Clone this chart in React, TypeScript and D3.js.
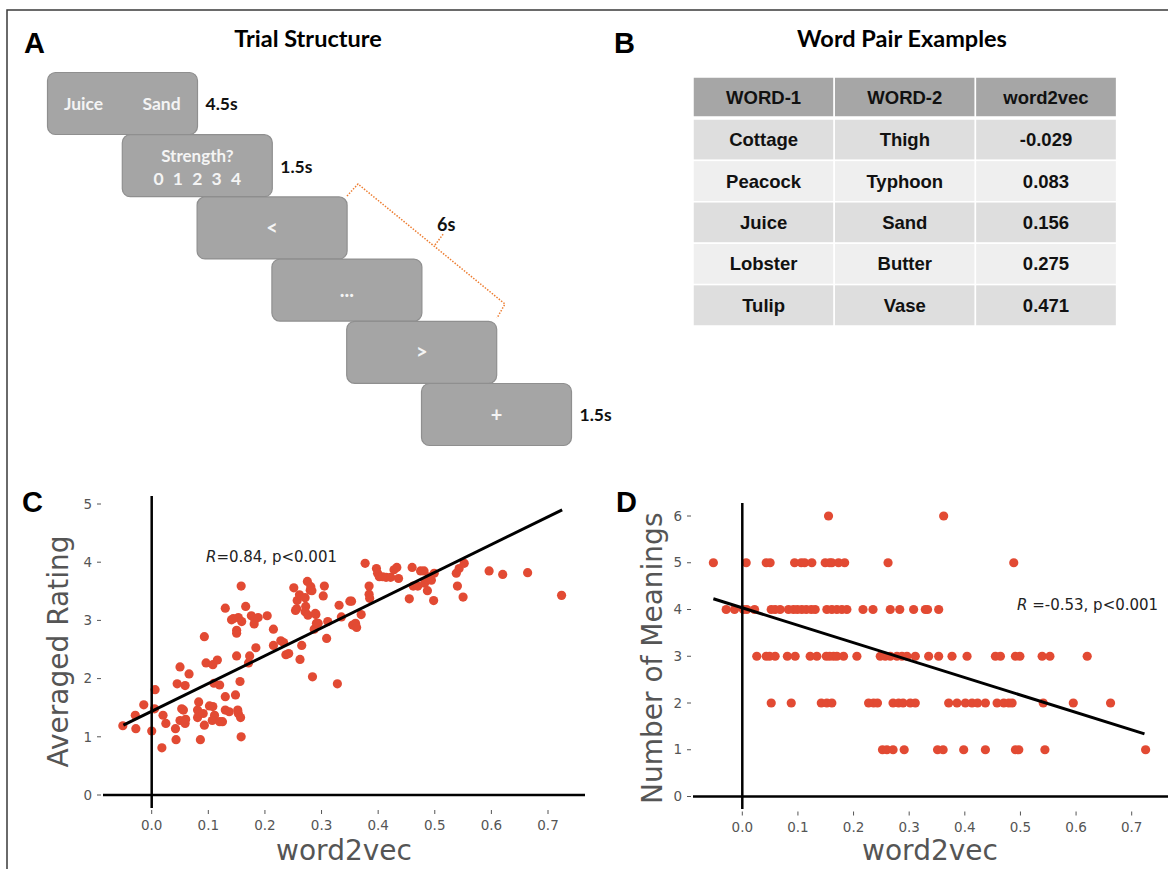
import React, { useEffect, useRef } from 'react';
import * as d3 from 'd3';

// ---- Panel A: trial structure ----
const screenLabels: string[][] = [['Juice', 'Sand'], ['Strength?', '0 1 2 3 4'], ['<'], ['...'], ['>'], ['+']];
const screenDurations = ['4.5s', '1.5s', '', '', '', '1.5s'];

// ---- Panel B: word pair table ----
const tableHeaders = ['WORD-1', 'WORD-2', 'word2vec'];
const word1 = ['Cottage', 'Peacock', 'Juice', 'Lobster', 'Tulip'];
const word2 = ['Thigh', 'Typhoon', 'Sand', 'Butter', 'Vase'];
const pairSimilarity = ['-0.029', '0.083', '0.156', '0.275', '0.471'];

// ---- Panel C: word2vec vs averaged rating ----
const cWord2vec = [
  -0.051, -0.029, -0.028, -0.014, 0.0, 0.006, 0.005, 0.018, 0.02, 0.025, 0.042, 0.043, 0.045, 0.05, 0.053, 0.056,
  0.05, 0.059, 0.059, 0.06, 0.066, 0.083, 0.081, 0.081, 0.084, 0.086, 0.093, 0.093, 0.096, 0.091, 0.102, 0.108,
  0.108, 0.11, 0.111, 0.107, 0.116, 0.12, 0.12, 0.125, 0.13, 0.13, 0.13, 0.137, 0.141, 0.148, 0.15, 0.15, 0.15,
  0.152, 0.153, 0.153, 0.156, 0.157, 0.158, 0.158, 0.159, 0.166, 0.171, 0.173, 0.176, 0.181, 0.182, 0.184, 0.188,
  0.204, 0.215, 0.215, 0.228, 0.233, 0.237, 0.242, 0.251, 0.254, 0.257, 0.261, 0.262, 0.265, 0.271, 0.272, 0.271,
  0.275, 0.276, 0.28, 0.281, 0.284, 0.287, 0.29, 0.291, 0.303, 0.305, 0.309, 0.311, 0.328, 0.331, 0.335, 0.35,
  0.353, 0.355, 0.36, 0.362, 0.37, 0.377, 0.384, 0.384, 0.385, 0.397, 0.399, 0.402, 0.408, 0.414, 0.422, 0.428,
  0.433, 0.436, 0.455, 0.46, 0.462, 0.47, 0.475, 0.481, 0.482, 0.487, 0.49, 0.494, 0.498, 0.499, 0.538, 0.54,
  0.543, 0.55, 0.552, 0.596, 0.62, 0.664, 0.724, 0.144, 0.256, 0.289, 0.294, 0.283,
];
const cRating = [
  1.19, 1.37, 1.14, 1.55, 1.1, 1.81, 1.48, 0.81, 1.37, 1.23, 1.14, 0.95, 1.91, 2.2, 1.48, 1.46,
  1.28, 1.88, 1.23, 1.3, 2.08, 1.6, 1.46, 1.33, 1.4, 0.95, 2.72, 1.2, 2.27, 1.4, 1.53, 1.52,
  2.24, 1.92, 1.37, 1.28, 2.32, 1.89, 1.26, 1.26, 3.21, 1.69, 1.46, 1.43, 3.01, 1.72, 2.39, 2.83, 2.78,
  1.46, 1.4, 3.05, 1.95, 1.33, 1.0, 3.59, 2.98, 3.24, 2.27, 2.39, 3.08, 2.94, 3.01, 2.53, 3.05,
  3.08, 2.85, 2.57, 2.65, 2.62, 2.41, 2.43, 3.56, 3.17, 3.34, 3.44, 2.33, 2.57, 3.39, 3.24, 3.15,
  3.67, 3.09, 3.52, 3.58, 2.03, 2.85, 3.1, 2.95, 3.42, 3.59, 2.69, 2.98, 1.91, 3.26, 3.06, 3.33,
  3.33, 2.92, 2.95, 2.88, 3.1, 3.98, 3.59, 3.45, 3.38, 3.89, 3.81, 3.75, 3.75, 3.74, 3.74, 3.87,
  3.91, 3.72, 3.37, 3.91, 3.59, 3.59, 3.85, 3.85, 3.64, 3.51, 3.75, 3.69, 3.34, 3.81, 3.81, 3.59,
  3.89, 3.4, 3.98, 3.85, 3.79, 3.82, 3.43, 3.03, 3.2, 3.12, 2.95, 3.51,
];
const cFitX = [-0.05, 0.725];
const cFitY = [1.2, 4.9];

// ---- Panel D: word2vec vs number of meanings ----
const dLevels = [1, 2, 3, 4, 5, 6];
const dWord2vecByLevel = [
  [0.252, 0.26, 0.271, 0.291, 0.351, 0.361, 0.398, 0.437, 0.491, 0.497, 0.544, 0.725],
  [0.052, 0.088, 0.142, 0.152, 0.161, 0.227, 0.236, 0.243, 0.271, 0.281, 0.289, 0.302, 0.311, 0.371, 0.386, 0.401,
    0.413, 0.423, 0.437, 0.458, 0.47, 0.479, 0.485, 0.541, 0.595, 0.662],
  [0.026, 0.043, 0.049, 0.059, 0.081, 0.095, 0.122, 0.134, 0.151, 0.157, 0.164, 0.17, 0.182, 0.206, 0.248, 0.257,
    0.266, 0.278, 0.287, 0.296, 0.311, 0.335, 0.353, 0.377, 0.404, 0.455, 0.464, 0.491, 0.499, 0.539, 0.553, 0.62],
  [-0.029, -0.014, 0.002, 0.008, 0.022, 0.052, 0.059, 0.068, 0.083, 0.092, 0.099, 0.107, 0.115, 0.124, 0.131, 0.152,
    0.161, 0.17, 0.179, 0.188, 0.217, 0.235, 0.266, 0.283, 0.308, 0.329, 0.333, 0.353],
  [-0.052, 0.007, 0.043, 0.05, 0.094, 0.106, 0.112, 0.125, 0.149, 0.157, 0.161, 0.173, 0.184, 0.262, 0.488],
  [0.155, 0.362],
];
const dFitX = [-0.052, 0.723];
const dFitY = [4.23, 1.34];

const DOT = '#e24a33';
const TICK_FONT = 'DejaVu Sans';

interface ScatterCfg {
  xs: number[];
  ys: number[];
  x: d3.ScaleLinear<number, number>;
  y: d3.ScaleLinear<number, number>;
  yMax: number;
  fitX: number[];
  fitY: number[];
  stat: string;
  statX: number;
  statY: number;
  yTitle: string;
  yTitleX: number;
  yTitleSize: number;
  xTitleX: number;
  axisX0: number;
  axisX1: number;
  vTop: number;
  vBottom: number;
}

function drawScatter(svg: d3.Selection<SVGSVGElement, unknown, null, undefined>, cfg: ScatterCfg) {
  const { x, y } = cfg;
  const g = svg.append('g');
  const y0 = y(0);

  // y ticks
  d3.range(0, cfg.yMax + 1).forEach(v => {
    g.append('text')
      .attr('x', cfg.axisX0 - 11)
      .attr('y', y(v))
      .attr('dy', '0.35em')
      .attr('text-anchor', 'end')
      .attr('font-family', TICK_FONT)
      .attr('font-size', 13.5)
      .attr('fill', '#555')
      .text(v);
    g.append('line')
      .attr('x1', cfg.axisX0 - 6).attr('x2', cfg.axisX0 - 2)
      .attr('y1', y(v)).attr('y2', y(v))
      .attr('stroke', '#555').attr('stroke-width', 1);
  });

  // x ticks
  x.ticks(7).forEach(t => {
    g.append('line')
      .attr('x1', x(t)).attr('x2', x(t))
      .attr('y1', y0 + 15).attr('y2', y0 + 19)
      .attr('stroke', '#555').attr('stroke-width', 1);
    g.append('text')
      .attr('x', x(t))
      .attr('y', y0 + 35)
      .attr('text-anchor', 'middle')
      .attr('font-family', TICK_FONT)
      .attr('font-size', 13.5)
      .attr('fill', '#555')
      .text(d3.format('.1f')(t));
  });

  // points
  g.selectAll('circle.pt')
    .data(cfg.xs.map((v, i) => [v, cfg.ys[i]]))
    .enter().append('circle')
    .attr('class', 'pt')
    .attr('cx', d => x(d[0]))
    .attr('cy', d => y(d[1]))
    .attr('r', 4.6)
    .attr('fill', DOT);

  // zero lines
  g.append('line')
    .attr('x1', cfg.axisX0).attr('x2', cfg.axisX1)
    .attr('y1', y0).attr('y2', y0)
    .attr('stroke', '#000').attr('stroke-width', 2.5);
  g.append('line')
    .attr('x1', x(0)).attr('x2', x(0))
    .attr('y1', cfg.vTop).attr('y2', cfg.vBottom)
    .attr('stroke', '#000').attr('stroke-width', 2.5);

  // regression line
  g.append('path')
    .attr('d', d3.line<number>().x((v, i) => x(cfg.fitX[i])).y(v => y(v))(cfg.fitY))
    .attr('stroke', '#000').attr('stroke-width', 3).attr('fill', 'none');

  const st = g.append('text')
    .attr('x', cfg.statX).attr('y', cfg.statY)
    .attr('font-family', TICK_FONT).attr('font-size', 15).attr('fill', '#222');
  st.append('tspan').attr('font-style', 'italic').text('R');
  st.append('tspan').text(cfg.stat);

  g.append('text')
    .attr('transform', `translate(${cfg.yTitleX},${(y(0) + y(cfg.yMax)) / 2 + 2}) rotate(-90)`)
    .attr('text-anchor', 'middle')
    .attr('font-family', TICK_FONT).attr('font-size', cfg.yTitleSize).attr('fill', '#555')
    .text(cfg.yTitle);

  g.append('text')
    .attr('x', cfg.xTitleX).attr('y', 860)
    .attr('text-anchor', 'middle')
    .attr('font-family', TICK_FONT).attr('font-size', 28).attr('fill', '#555')
    .text('word2vec');
}

const App: React.FC = () => {
  const svgRef = useRef<SVGSVGElement>(null);

  useEffect(() => {
    if (!svgRef.current) return;
    const svg = d3.select(svgRef.current);
    svg.selectAll('*').remove();

    svg.append('rect').attr('width', 1168).attr('height', 869).attr('fill', '#fff');
    svg.append('rect')
      .attr('x', 7).attr('y', 10).attr('width', 1400).attr('height', 1000)
      .attr('fill', 'none').attr('stroke', '#3a3a3a').attr('stroke-width', 1.5);

    const letter = (t: string, x: number, y: number) =>
      svg.append('text').attr('x', x).attr('y', y)
        .attr('font-family', 'Liberation Sans, Arial').attr('font-weight', 'bold')
        .attr('font-size', 29).attr('fill', '#000').text(t);
    letter('A', 24, 53);
    letter('B', 614, 53);
    letter('C', 22, 512);
    letter('D', 616, 512);

    const title = (t: string, x: number) =>
      svg.append('text').attr('x', x).attr('y', 47).attr('text-anchor', 'middle')
        .attr('font-family', 'Lato').attr('font-weight', 'bold')
        .attr('font-size', 23.5).attr('fill', '#000').text(t);
    title('Trial Structure', 308);
    title('Word Pair Examples', 902);

    // ---- Panel A ----
    const boxW = 150, boxH = 62, stepX = 74.8, stepY = 62.2;
    const gA = svg.append('g');
    screenLabels.forEach((lab, i) => {
      const bx = 47.5 + i * stepX, by = 72.5 + i * stepY;
      gA.append('rect')
        .attr('x', bx).attr('y', by).attr('width', boxW).attr('height', boxH)
        .attr('rx', 8).attr('fill', '#a5a5a5').attr('stroke', '#8f8f8f').attr('stroke-width', 1.2);
      const txt = (s: string, tx: number, ty: number, size = 17) =>
        gA.append('text').attr('x', tx).attr('y', ty).attr('text-anchor', 'middle')
          .attr('font-family', 'Lato').attr('font-weight', 'bold').attr('font-size', size)
          .attr('fill', '#f4f4f4').text(s);
      if (lab.length === 2 && i === 0) {
        txt(lab[0], bx + 36, by + 37, 17.5);
        txt(lab[1], bx + 114, by + 37, 17.5);
      } else if (lab.length === 2) {
        txt(lab[0], bx + boxW / 2, by + 27, 17);
        txt(lab[1], bx + boxW / 2, by + 50, 17.5).attr('word-spacing', 5);
      } else {
        txt(lab[0], bx + boxW / 2, by + boxH / 2 + 7, 20);
      }
      if (screenDurations[i]) {
        gA.append('text')
          .attr('x', bx + boxW + 8).attr('y', by + (i === 1 ? 38 : 37))
          .attr('font-family', 'Lato').attr('font-weight', 'bold').attr('font-size', 17.5)
          .attr('fill', '#111').text(screenDurations[i]);
      }
    });
    // 6s bracket
    gA.append('polyline')
      .attr('points', '347,196 358,184 505,304 497,318')
      .attr('fill', 'none').attr('stroke', '#ed7d31').attr('stroke-width', 1.5)
      .attr('stroke-dasharray', '1.5,1.5');
    gA.append('line')
      .attr('x1', 435).attr('y1', 245).attr('x2', 444).attr('y2', 233)
      .attr('stroke', '#ed7d31').attr('stroke-width', 1.5).attr('stroke-dasharray', '1.5,1.5');
    gA.append('text').attr('x', 437).attr('y', 231)
      .attr('font-family', 'Lato').attr('font-weight', 'bold').attr('font-size', 18)
      .attr('fill', '#111').text('6s');

    // ---- Panel B ----
    const tx0 = 693, colW = 141.2, headY = 77, headH = 40, rowY0 = 119, rowH = 41.4;
    const gB = svg.append('g');
    const cell = (ci: number, y: number, h: number, fill: string, s: string) => {
      gB.append('rect')
        .attr('x', tx0 + ci * colW).attr('y', y).attr('width', colW).attr('height', h)
        .attr('fill', fill).attr('stroke', '#fff').attr('stroke-width', 1.5);
      gB.append('text')
        .attr('x', tx0 + ci * colW + colW / 2).attr('y', y + h / 2 + 6.5)
        .attr('text-anchor', 'middle')
        .attr('font-family', 'Liberation Sans, Arial').attr('font-weight', 'bold')
        .attr('font-size', 18.5).attr('fill', '#111').text(s);
    };
    tableHeaders.forEach((h, ci) => cell(ci, headY, headH, '#a6a6a6', h));
    word1.forEach((w, ri) => {
      const fill = ri % 2 === 0 ? '#dedede' : '#efefef';
      const y = rowY0 + ri * rowH;
      cell(0, y, rowH, fill, w);
      cell(1, y, rowH, fill, word2[ri]);
      cell(2, y, rowH, fill, pairSimilarity[ri]);
    });

    // ---- Panel C ----
    drawScatter(svg, {
      xs: cWord2vec,
      ys: cRating,
      x: d3.scaleLinear().domain([0, 0.7]).range([151.7, 548]),
      y: d3.scaleLinear().domain([0, 5]).range([795, 504]),
      yMax: 5,
      fitX: cFitX,
      fitY: cFitY,
      stat: '=0.84, p<0.001',
      statX: 206,
      statY: 562,
      yTitle: 'Averaged Rating',
      yTitleX: 68,
      yTitleSize: 28,
      xTitleX: 344,
      axisX0: 103,
      axisX1: 585,
      vTop: 496,
      vBottom: 808,
    });

    // ---- Panel D ----
    const dXs: number[] = [];
    const dYs: number[] = [];
    dWord2vecByLevel.forEach((arr, li) => arr.forEach(v => { dXs.push(v); dYs.push(dLevels[li]); }));
    drawScatter(svg, {
      xs: dXs,
      ys: dYs,
      x: d3.scaleLinear().domain([0, 0.7]).range([742.3, 1131.7]),
      y: d3.scaleLinear().domain([0, 6]).range([796.5, 516]),
      yMax: 6,
      fitX: dFitX,
      fitY: dFitY,
      stat: ' =-0.53, p<0.001',
      statX: 1017,
      statY: 610,
      yTitle: 'Number of Meanings',
      yTitleX: 662,
      yTitleSize: 28,
      xTitleX: 930,
      axisX0: 693,
      axisX1: 1168,
      vTop: 503,
      vBottom: 809,
    });
  }, []);

  return (
    <svg
      ref={svgRef}
      width={1168}
      height={869}
      style={{ position: 'absolute', left: 0, top: 0, display: 'block' }}
    />
  );
};

export default App;
